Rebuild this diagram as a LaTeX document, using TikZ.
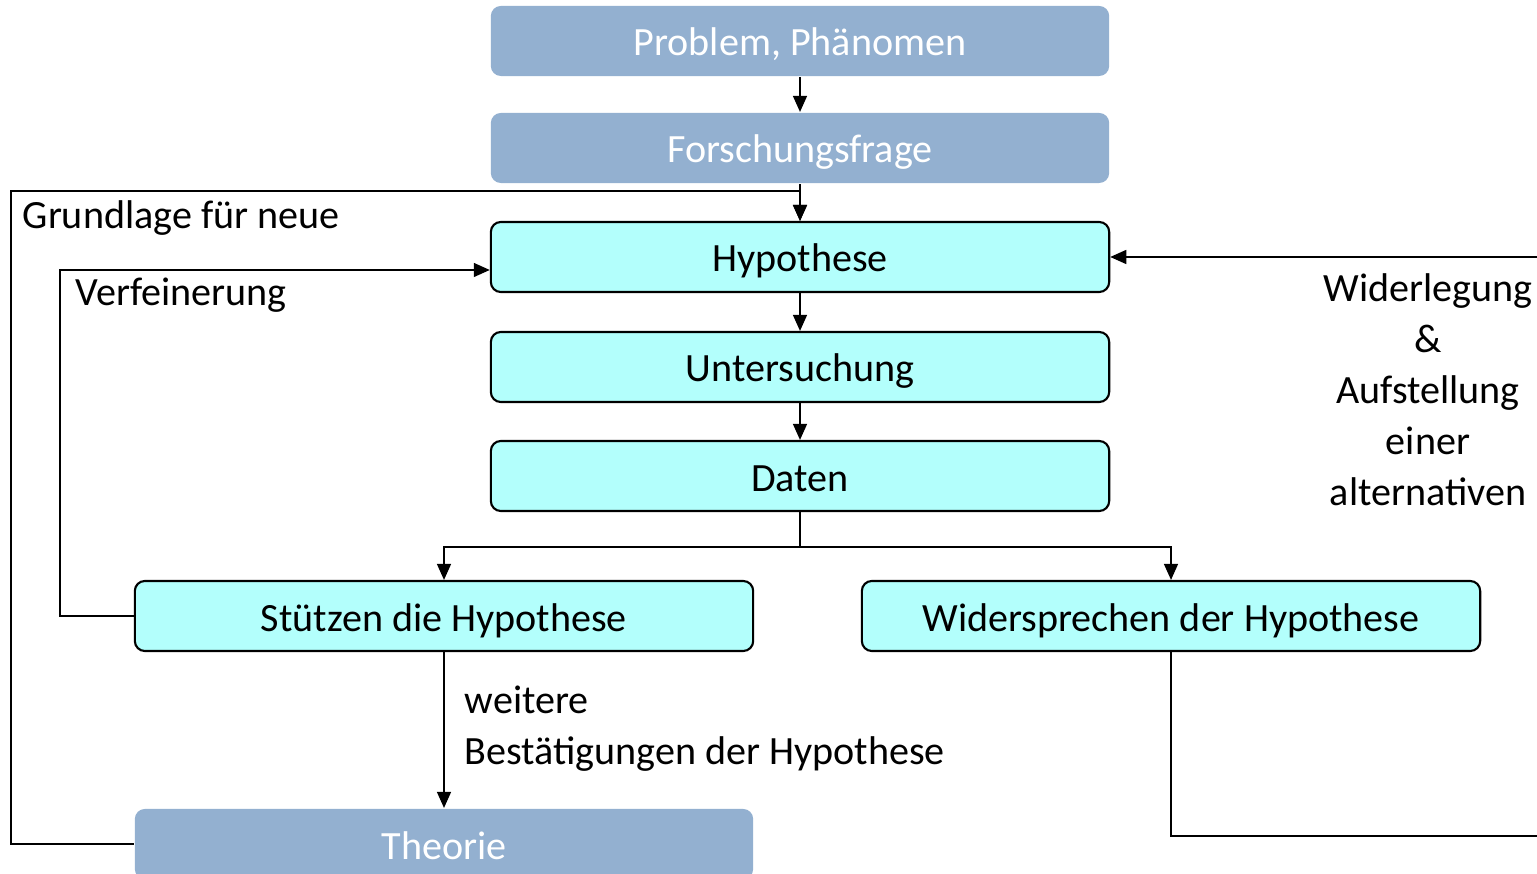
\documentclass[tikz,border=0pt]{standalone}
\usepackage{fontspec}
\setmainfont{Carlito}
\usetikzlibrary{arrows.meta}

\definecolor{slatebox}{RGB}{147,176,208}
\definecolor{cyanbox}{RGB}{179,255,252}

\begin{document}
\begin{tikzpicture}[x=0.01cm, y=-0.01cm,
  box/.style={draw, line width=0.6pt, rounded corners=0.1cm, minimum width=6.18cm, minimum height=0.70cm, inner sep=0pt, text height=0.30cm, text depth=0pt, fill=cyanbox, font=\fontsize{11.4pt}{14.5pt}\selectfont},
  topbox/.style={box, draw=none, fill=slatebox, text=white},
  lbl/.style={inner sep=0pt, font=\fontsize{11.4pt}{14.5pt}\selectfont},
  arrow/.style={-{Triangle[length=0.16cm, width=0.14cm]}, line width=0.4pt}
]
\path[use as bounding box] (0,0) rectangle (1537,874);
\clip (0,0) rectangle (1537,874);

% Nodes
\node[topbox] (problem) at (800,41) {Problem, Phänomen};
\node[topbox] (frage) at (800,148) {Forschungsfrage};
\node[box] (hyp) at (800,257) {Hypothese};
\node[box] (unters) at (800,367) {Untersuchung};
\node[box] (daten) at (800,476) {Daten};
\node[box] (stuetzen) at (444,616) {Stützen die Hypothese};
\node[box] (wider) at (1171,616) {Widersprechen der Hypothese};
\node[topbox] (theorie) at (444,844) {Theorie};

% Labels
\node[lbl, anchor=base west] (grundlage) at (22,229) {Grundlage für neue};
\node[lbl, anchor=base west] (verfeinerung) at (75,306) {Verfeinerung};
\node[lbl, anchor=west, align=left] (weitere) at (464,729) {weitere\\Bestätigungen der Hypothese};
\node[lbl, align=center] (widerlegung) at (1428,390) {Widerlegung\\\&\\Aufstellung\\einer\\alternativen};

% Arrows
\draw[arrow] (problem) -- (frage);
\draw[arrow] (frage) -- (hyp);
\draw[arrow] (hyp) -- (unters);
\draw[arrow] (unters) -- (daten);
\draw[arrow] (daten.south) -- ++(0,35) -| (stuetzen.north);
\draw[arrow] (daten.south) -- ++(0,35) -| (wider.north);
\draw[arrow] (stuetzen) -- (theorie);
\draw[arrow] (theorie.west) -| (11,191) -| (hyp.north);
\draw[arrow] (stuetzen.west) -| (60,270) -- (hyp.west |- 0,270);
\draw[arrow] (wider.south) |- (1545,836) |- (hyp.east);

\end{tikzpicture}
\end{document}
